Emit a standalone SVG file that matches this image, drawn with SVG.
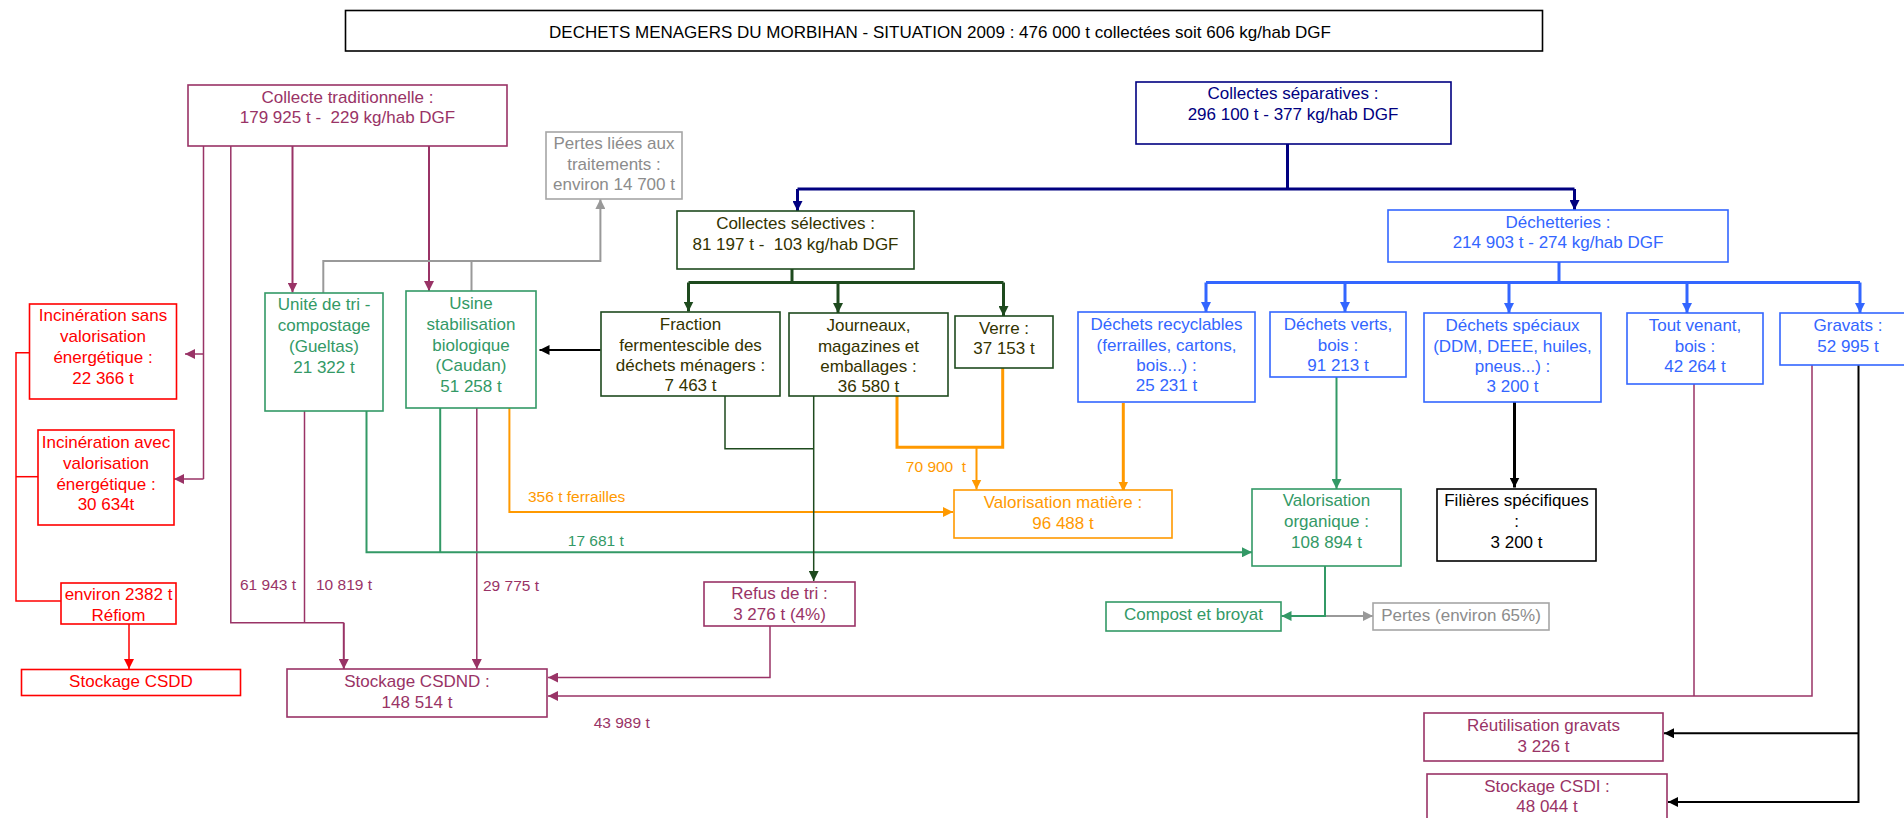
<svg xmlns="http://www.w3.org/2000/svg" width="1904" height="818" viewBox="0 0 1904 818">
<style>
text { font-family: "Liberation Sans", Arial, sans-serif; font-size: 17px; text-anchor: middle; }
.lbl { font-size: 15.5px; }
rect { fill: #ffffff; stroke-width: 1.6; }
#connectors path { fill: none; }
.pu rect { stroke: #993366; } .pu text { fill: #993366; }
.gr rect { stroke: #339966; } .gr text { fill: #339966; }
.dg rect { stroke: #1e4a1e; } .dg text { fill: #333300; }
.nv rect { stroke: #000080; } .nv text { fill: #000080; }
.bl rect { stroke: #3366ff; } .bl text { fill: #3366ff; }
.or rect { stroke: #ff9900; } .or text { fill: #ff9900; }
.rd rect { stroke: #ff0000; } .rd text { fill: #ff0000; }
.gy rect { stroke: #a6a6a6; } .gy text { fill: #8c8c8c; }
.bk rect { stroke: #000000; } .bk text { fill: #000000; }
.c-pu { stroke: #993366; stroke-width: 1.5; }
.c-pu2 { stroke: #993366; stroke-width: 2; }
.c-gr { stroke: #339966; stroke-width: 2; }
.c-dg { stroke: #1e4a1e; stroke-width: 3; }
.c-dg1 { stroke: #1e4a1e; stroke-width: 1.5; }
.c-nv { stroke: #000080; stroke-width: 3; }
.c-bl { stroke: #3366ff; stroke-width: 3; }
.c-or { stroke: #ff9900; stroke-width: 2; }
.c-or3 { stroke: #ff9900; stroke-width: 3; }
.c-rd { stroke: #ff0000; stroke-width: 1.5; }
.c-gy { stroke: #999999; stroke-width: 2; }
.c-bk { stroke: #000000; stroke-width: 2; }
.c-bk3 { stroke: #000000; stroke-width: 3; }
</style>
<defs>
<marker id="a-pu" markerUnits="userSpaceOnUse" markerWidth="11" markerHeight="10" refX="10" refY="5" orient="auto"><path d="M0,0 L10,5 L0,10 z" style="fill:#993366;stroke:none"/></marker>
<marker id="a-gr" markerUnits="userSpaceOnUse" markerWidth="11" markerHeight="10" refX="10" refY="5" orient="auto"><path d="M0,0 L10,5 L0,10 z" style="fill:#339966;stroke:none"/></marker>
<marker id="a-dg" markerUnits="userSpaceOnUse" markerWidth="11" markerHeight="10" refX="10" refY="5" orient="auto"><path d="M0,0 L10,5 L0,10 z" style="fill:#1e4a1e;stroke:none"/></marker>
<marker id="a-nv" markerUnits="userSpaceOnUse" markerWidth="11" markerHeight="10" refX="10" refY="5" orient="auto"><path d="M0,0 L10,5 L0,10 z" style="fill:#000080;stroke:none"/></marker>
<marker id="a-bl" markerUnits="userSpaceOnUse" markerWidth="11" markerHeight="10" refX="10" refY="5" orient="auto"><path d="M0,0 L10,5 L0,10 z" style="fill:#3366ff;stroke:none"/></marker>
<marker id="a-or" markerUnits="userSpaceOnUse" markerWidth="11" markerHeight="10" refX="10" refY="5" orient="auto"><path d="M0,0 L10,5 L0,10 z" style="fill:#ff9900;stroke:none"/></marker>
<marker id="a-rd" markerUnits="userSpaceOnUse" markerWidth="11" markerHeight="10" refX="10" refY="5" orient="auto"><path d="M0,0 L10,5 L0,10 z" style="fill:#ff0000;stroke:none"/></marker>
<marker id="a-gy" markerUnits="userSpaceOnUse" markerWidth="11" markerHeight="10" refX="10" refY="5" orient="auto"><path d="M0,0 L10,5 L0,10 z" style="fill:#999999;stroke:none"/></marker>
<marker id="a-bk" markerUnits="userSpaceOnUse" markerWidth="11" markerHeight="10" refX="10" refY="5" orient="auto"><path d="M0,0 L10,5 L0,10 z" style="fill:#000000;stroke:none"/></marker>
</defs>
<rect width="1904" height="818" fill="#ffffff" stroke="none"/>

<g id="connectors">
  <!-- navy -->
  <path class="c-nv" d="M1287.5,144 V189"/>
  <path class="c-nv" d="M797.5,189 H1574.5"/>
  <path class="c-nv" d="M797.5,189 V211" marker-end="url(#a-nv)"/>
  <path class="c-nv" d="M1574.5,189 V210" marker-end="url(#a-nv)"/>
  <!-- dark green -->
  <path class="c-dg" d="M792,269 V282.5"/>
  <path class="c-dg" d="M688.5,282.5 H1003.5"/>
  <path class="c-dg" d="M688.5,282.5 V311.5" marker-end="url(#a-dg)"/>
  <path class="c-dg" d="M838,282.5 V313" marker-end="url(#a-dg)"/>
  <path class="c-dg" d="M1003.5,282.5 V316" marker-end="url(#a-dg)"/>
  <!-- blue -->
  <path class="c-bl" d="M1559,262 V282.5"/>
  <path class="c-bl" d="M1206,282.5 H1860"/>
  <path class="c-bl" d="M1206,282.5 V312" marker-end="url(#a-bl)"/>
  <path class="c-bl" d="M1345,282.5 V312" marker-end="url(#a-bl)"/>
  <path class="c-bl" d="M1509,282.5 V313" marker-end="url(#a-bl)"/>
  <path class="c-bl" d="M1687,282.5 V313" marker-end="url(#a-bl)"/>
  <path class="c-bl" d="M1860,282.5 V313" marker-end="url(#a-bl)"/>
  <!-- purple from collecte traditionnelle -->
  <path class="c-pu2" d="M292.5,146 V292.5" marker-end="url(#a-pu)"/>
  <path class="c-pu2" d="M429,146 V291" marker-end="url(#a-pu)"/>
  <path class="c-pu" d="M203.5,146 V479"/>
  <path class="c-pu" d="M203.5,354 H185" marker-end="url(#a-pu)"/>
  <path class="c-pu" d="M203.5,479 H174" marker-end="url(#a-pu)"/>
  <path class="c-pu" d="M230.8,146 V622.7 H343.8"/>
  <path class="c-pu2" d="M343.8,622.7 V669" marker-end="url(#a-pu)"/>
  <path class="c-pu" d="M304.5,411 V622.7"/>
  <path class="c-pu" d="M476.8,408 V669" marker-end="url(#a-pu)"/>
  <path class="c-pu" d="M770,626 V677.5 H548" marker-end="url(#a-pu)"/>
  <path class="c-pu" d="M1694,384 V696"/>
  <path class="c-pu" d="M1812,365 V696 H548" marker-end="url(#a-pu)"/>
  <!-- red -->
  <path class="c-rd" d="M29.5,352.7 H16 V601 H61"/>
  <path class="c-rd" d="M16,476.7 H38"/>
  <path class="c-rd" d="M129,624 V669" marker-end="url(#a-rd)"/>
  <!-- gray -->
  <path class="c-gy" d="M323.3,293 V261 H600.4 V199" marker-end="url(#a-gy)"/>
  <path class="c-gy" d="M471.5,291 V261"/>
  <path class="c-gy" d="M1325,616 H1373" marker-end="url(#a-gy)"/>
  <!-- black -->
  <path class="c-bk" d="M600.5,350 H539.5" marker-end="url(#a-bk)"/>
  <path class="c-bk3" d="M1514.5,402 V487.5" marker-end="url(#a-bk)"/>
  <path class="c-bk" d="M1858.5,365 V802 H1668" marker-end="url(#a-bk)"/>
  <path class="c-bk" d="M1858.5,733.3 H1664" marker-end="url(#a-bk)"/>
  <!-- orange -->
  <path class="c-or" d="M509.4,408 V512 H953" marker-end="url(#a-or)"/>
  <path class="c-or3" d="M897,396 V447.3 H1002.7 V368"/>
  <path class="c-or" d="M976.5,447.3 V489.5" marker-end="url(#a-or)"/>
  <path class="c-or3" d="M1123.3,403 V491.5" marker-end="url(#a-or)"/>
  <!-- green -->
  <path class="c-gr" d="M366.5,411 V552.3 H1252" marker-end="url(#a-gr)"/>
  <path class="c-gr" d="M440.2,408 V552.3"/>
  <path class="c-gr" d="M1336.5,377 V489" marker-end="url(#a-gr)"/>
  <path class="c-gr" d="M1325,566 V616 H1281.5" marker-end="url(#a-gr)"/>
  <!-- dark green thin -->
  <path class="c-dg1" d="M725,396 V448.7 H813.7"/>
  <path class="c-dg1" d="M813.7,396 V581" marker-end="url(#a-dg)"/>
  <!-- labels -->
  <g class="pu"><text class="lbl" x="268" y="589.5">61 943 t</text>
  <text class="lbl" x="344" y="589.5">10 819 t</text>
  <text class="lbl" x="511" y="591">29 775 t</text>
  <text class="lbl" x="621.7" y="727.5">43 989 t</text></g>
  <g class="or"><text class="lbl" x="528" y="501.5" style="text-anchor:start">356 t ferrailles</text>
  <text class="lbl" x="936" y="471.5">70 900&#160; t</text></g>
  <g class="gr"><text class="lbl" x="595.8" y="545.5">17 681 t</text></g>
</g>

<g id="title" class="bk"><rect x="345.5" y="10.5" width="1197" height="40.5" stroke-width="2.5"/><text x="940" y="38">DECHETS MENAGERS DU MORBIHAN - SITUATION 2009 : 476 000 t collectées soit 606 kg/hab DGF</text></g>

<g id="collecte-traditionnelle" class="pu"><rect x="188" y="85" width="319" height="61"/><text x="347.5" y="102.7">Collecte traditionnelle :</text><text x="347.5" y="123.3">179 925 t -&#160; 229 kg/hab DGF</text></g>

<g id="pertes-traitements" class="gy"><rect x="546" y="132" width="136" height="67"/><text x="614" y="149">Pertes liées aux</text><text x="614" y="169.5">traitements :</text><text x="614" y="190">environ 14 700 t</text></g>

<g id="collectes-separatives" class="nv"><rect x="1136" y="82" width="315" height="62"/><text x="1293" y="98.5">Collectes séparatives :</text><text x="1293" y="119.5">296 100 t - 377 kg/hab DGF</text></g>

<g id="collectes-selectives" class="dg"><rect x="677" y="211" width="237" height="58"/><text x="795.5" y="229">Collectes sélectives :</text><text x="795.5" y="249.5">81 197 t -&#160; 103 kg/hab DGF</text></g>

<g id="dechetteries" class="bl"><rect x="1388" y="210" width="340" height="52"/><text x="1558" y="228">Déchetteries :</text><text x="1558" y="248">214 903 t - 274 kg/hab DGF</text></g>

<g id="unite-tri" class="gr"><rect x="265" y="293" width="118" height="118"/><text x="324" y="309.5">Unité de tri -</text><text x="324" y="331">compostage</text><text x="324" y="352">(Gueltas)</text><text x="324" y="372.5">21 322 t</text></g>

<g id="usine-stabilisation" class="gr"><rect x="406" y="291" width="130" height="117"/><text x="471" y="308.5">Usine</text><text x="471" y="329.5">stabilisation</text><text x="471" y="350.5">biologique</text><text x="471" y="371">(Caudan)</text><text x="471" y="391.5">51 258 t</text></g>

<g id="incineration-sans" class="rd"><rect x="29.5" y="304" width="147" height="95"/><text x="103" y="320.5">Incinération sans</text><text x="103" y="341.5">valorisation</text><text x="103" y="362.5">énergétique :</text><text x="103" y="383.5">22 366 t</text></g>

<g id="incineration-avec" class="rd"><rect x="38" y="430" width="136" height="95"/><text x="106" y="448">Incinération avec</text><text x="106" y="469">valorisation</text><text x="106" y="489.5">énergétique :</text><text x="106" y="510">30 634t</text></g>

<g id="refiom" class="rd"><rect x="61" y="583" width="115" height="41"/><text x="118.5" y="599.5">environ 2382 t</text><text x="118.5" y="620.5">Réfiom</text></g>

<g id="stockage-csdd" class="rd"><rect x="21.5" y="669.5" width="219" height="26"/><text x="131" y="686.5">Stockage CSDD</text></g>

<g id="stockage-csdnd" class="pu"><rect x="287" y="669" width="260" height="48"/><text x="417" y="687">Stockage CSDND :</text><text x="417" y="707.5">148 514 t</text></g>

<g id="fraction-fermentescible" class="dg"><rect x="601" y="312" width="179" height="84"/><text x="690.5" y="329.5">Fraction</text><text x="690.5" y="350.5">fermentescible des</text><text x="690.5" y="370.5">déchets ménagers :</text><text x="690.5" y="391">7 463 t</text></g>

<g id="journeaux" class="dg"><rect x="789" y="313" width="159" height="83"/><text x="868.5" y="331">Journeaux,</text><text x="868.5" y="352">magazines et</text><text x="868.5" y="372">emballages :</text><text x="868.5" y="392">36 580 t</text></g>

<g id="verre" class="dg"><rect x="955" y="316" width="98" height="52"/><text x="1004" y="333.5">Verre :</text><text x="1004" y="354">37 153 t</text></g>

<g id="dechets-recyclables" class="bl"><rect x="1078" y="312" width="177" height="90"/><text x="1166.5" y="329.5">Déchets recyclables</text><text x="1166.5" y="351">(ferrailles, cartons,</text><text x="1166.5" y="370.5">bois...) :</text><text x="1166.5" y="391">25 231 t</text></g>

<g id="dechets-verts" class="bl"><rect x="1270" y="312" width="136" height="65"/><text x="1338" y="330">Déchets verts,</text><text x="1338" y="351">bois :</text><text x="1338" y="370.5">91 213 t</text></g>

<g id="dechets-speciaux" class="bl"><rect x="1424" y="313" width="177" height="89"/><text x="1512.5" y="331">Déchets spéciaux</text><text x="1512.5" y="352">(DDM, DEEE, huiles,</text><text x="1512.5" y="372">pneus...) :</text><text x="1512.5" y="392">3 200 t</text></g>

<g id="tout-venant" class="bl"><rect x="1627" y="313" width="136" height="71"/><text x="1695" y="331">Tout venant,</text><text x="1695" y="352">bois :</text><text x="1695" y="371.5">42 264 t</text></g>

<g id="gravats" class="bl"><rect x="1780" y="313" width="136" height="52"/><text x="1848" y="331">Gravats :</text><text x="1848" y="352">52 995 t</text></g>

<g id="valorisation-matiere" class="or"><rect x="954" y="490" width="218" height="48"/><text x="1063" y="508">Valorisation matière :</text><text x="1063" y="529">96 488 t</text></g>

<g id="valorisation-organique" class="gr"><rect x="1252" y="489" width="149" height="77"/><text x="1326.5" y="506">Valorisation</text><text x="1326.5" y="527">organique :</text><text x="1326.5" y="548">108 894 t</text></g>

<g id="filieres-specifiques" class="bk"><rect x="1437" y="489" width="159" height="72"/><text x="1516.5" y="506">Filières spécifiques</text><text x="1516.5" y="527">:</text><text x="1516.5" y="548">3 200 t</text></g>

<g id="refus-tri" class="pu"><rect x="704" y="582" width="151" height="44"/><text x="779.5" y="599">Refus de tri :</text><text x="779.5" y="619.5">3 276 t (4%)</text></g>

<g id="compost-broyat" class="gr"><rect x="1106" y="602" width="175" height="29"/><text x="1193.5" y="619.5">Compost et broyat</text></g>

<g id="pertes-65" class="gy"><rect x="1373" y="603" width="176" height="27"/><text x="1461" y="621">Pertes (environ 65%)</text></g>

<g id="reutilisation-gravats" class="pu"><rect x="1424" y="713" width="239" height="48"/><text x="1543.5" y="730.5">Réutilisation gravats</text><text x="1543.5" y="752">3 226 t</text></g>

<g id="stockage-csdi" class="pu"><rect x="1427" y="774" width="240" height="60"/><text x="1547" y="792">Stockage CSDI :</text><text x="1547" y="812">48 044 t</text></g>
</svg>
